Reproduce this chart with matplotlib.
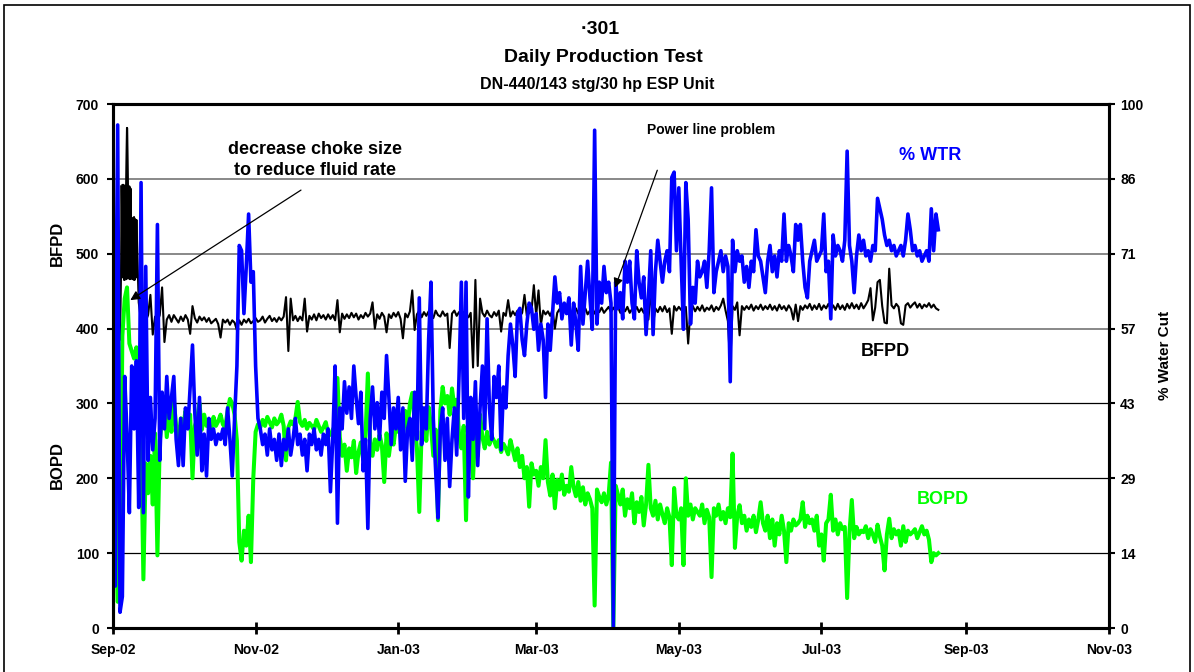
import numpy as np
import matplotlib
matplotlib.use("Agg")
import matplotlib.pyplot as plt
import matplotlib.dates as mdates
import pandas as pd
from matplotlib.patches import Rectangle

plt.rcParams['font.family'] = ['Liberation Sans', 'DejaVu Sans']
plt.rcParams['font.weight'] = 'bold'

# Daily test values, starting 1 Sep 2002
start_date = '2002-09-01'

# Fluid rate, barrels per day (left axis)
bfpd = [400, 420, 430, 385, 592, 465, 668, 470, 548, 465,
        545, 435, 410, 430, 410, 418, 445, 392, 416, 409,
        418, 455, 382, 412, 418, 409, 418, 413, 408, 416,
        410, 418, 412, 393, 430, 414, 408, 416, 411, 415,
        409, 414, 407, 410, 413, 406, 388, 412, 408, 412,
        405, 411, 408, 398, 411, 405, 412, 408, 413, 407,
        410, 414, 409, 411, 416, 408, 413, 417, 410, 414,
        409, 415, 411, 416, 442, 370, 440, 411, 417, 410,
        416, 411, 440, 396, 417, 412, 419, 411, 420, 414,
        418, 412, 419, 413, 418, 411, 438, 395, 420, 413,
        419, 414, 421, 415, 420, 412, 418, 414, 421, 416,
        420, 435, 400, 419, 413, 421, 416, 395, 419, 414,
        421, 416, 422, 413, 387, 420, 415, 423, 451, 398,
        419, 424, 415, 422, 417, 423, 418, 414, 424, 418,
        416, 423, 417, 420, 374, 420, 424, 417, 422, 416,
        422, 418, 415, 421, 348, 465, 350, 440, 421, 416,
        424, 418, 415, 422, 417, 424, 396, 421, 417, 438,
        416, 423, 418, 424, 416, 421, 445, 417, 421, 424,
        458, 418, 451, 405, 424, 419, 423, 417, 425, 400,
        421, 426, 419, 424, 420, 426, 418, 423, 427, 420,
        425, 421, 427, 419, 424, 428, 420, 426, 422, 428,
        421, 425, 429, 422, 428, 423, 429, 421, 426, 423,
        429, 421, 426, 423, 429, 422, 427, 421, 428, 412,
        451, 407, 427, 422, 429, 423, 430, 422, 427, 393,
        430, 424, 429, 425, 423, 429, 380, 425, 430, 423,
        429, 424, 431, 423, 428, 425, 431, 423, 429, 425,
        431, 440, 424, 410, 351, 430, 425, 435, 391, 430,
        425, 430, 426, 432, 424, 430, 426, 432, 425, 430,
        426, 432, 425, 430, 424, 432, 426, 430, 424, 431,
        426, 412, 432, 410, 430, 425, 431, 427, 433, 425,
        431, 426, 433, 425, 431, 427, 433, 426, 431, 425,
        433, 426, 431, 425, 433, 427, 434, 427, 432, 426,
        434, 427, 432, 438, 454, 411, 428, 462, 465, 430,
        408, 407, 480, 431, 427, 433, 429, 407, 405, 431,
        434, 428, 432, 435, 428, 433, 427, 432, 429, 434,
        428, 432, 427, 425]

# Fluid rate tests every 6 hours, 4 Sep to 11 Sep 2002 (choke adjustment period)
early_start = '2002-09-04 12:00'
bfpd_early = [590, 468, 586, 470, 592, 465, 588, 470, 591, 466,
              668, 470, 589, 467, 590, 466, 587, 469, 548, 466,
              545, 470, 549, 465, 546, 468, 545, 470]

# Oil rate, barrels per day (left axis)
bopd = [20, 355, 35, 40, 390, 440, 455, 380, 370, 360,
        375, 300, 260, 65, 220, 180, 230, 165, 260, 97,
        250, 280, 300, 255, 290, 262, 305, 270, 245, 280,
        268, 290, 275, 285, 200, 270, 280, 300, 265, 285,
        270, 278, 265, 282, 270, 276, 285, 272, 268, 290,
        306, 300, 285, 250, 115, 90, 130, 110, 150, 88,
        200, 262, 272, 268, 278, 270, 282, 275, 268, 280,
        272, 276, 285, 270, 224, 268, 276, 272, 280, 302,
        275, 270, 278, 266, 274, 270, 265, 278, 270, 262,
        268, 275, 260, 258, 265, 270, 334, 255, 230, 245,
        210, 240, 228, 250, 207, 235, 248, 225, 256, 340,
        248, 230, 252, 238, 258, 244, 195, 260, 230, 255,
        245, 270, 262, 280, 255, 290, 268, 300, 314, 275,
        240, 155, 262, 280, 250, 295, 270, 230, 265, 144,
        290, 322, 300, 310, 285, 320, 295, 305, 260, 240,
        270, 144, 282, 250, 200, 270, 230, 285, 255, 240,
        262, 245, 256, 250, 242, 251, 235, 246, 240, 232,
        251, 238, 224, 240, 215, 230, 200, 215, 162, 220,
        205, 210, 190, 215, 200, 251, 195, 177, 205, 160,
        198, 185, 205, 178, 190, 182, 215, 188, 176, 195,
        170, 188, 165, 180, 172, 160, 30, 185, 175, 168,
        180, 165, 178, 221, 0, 190, 178, 165, 185, 150,
        172, 160, 180, 140, 168, 155, 175, 137, 165, 218,
        160, 150, 170, 145, 165, 152, 140, 160, 148, 84,
        187, 150, 145, 160, 84, 200, 150, 165, 145, 160,
        155, 150, 165, 140, 158, 148, 68, 160, 150, 165,
        145, 155, 140, 160, 148, 233, 107, 150, 164, 140,
        150, 130, 145, 135, 150, 128, 145, 168, 140, 130,
        150, 120, 145, 110, 140, 125, 150, 130, 88, 140,
        130, 145, 137, 140, 145, 168, 135, 150, 140, 145,
        130, 150, 110, 125, 90, 140, 145, 178, 130, 145,
        125, 140, 132, 135, 40, 128, 171, 120, 135, 125,
        130, 128, 136, 120, 132, 125, 115, 138, 122, 110,
        77, 125, 146, 120, 132, 125, 130, 110, 136, 115,
        130, 125, 128, 132, 120, 128, 136, 125, 130, 118,
        88, 100, 97, 100]

# Water cut, percent (right axis)
wtr = [100, 8, 96, 3, 6, 48, 37, 22, 50, 38,
       51, 23, 85, 22, 69, 32, 44, 34, 40, 77,
       32, 45, 38, 48, 40, 44, 48, 36, 31, 40,
       31, 42, 38, 46, 54, 41, 33, 44, 30, 37,
       29, 40, 36, 38, 35, 37, 36, 38, 35, 42,
       36, 29, 40, 50, 73, 72, 60, 69, 79, 66,
       68, 50, 40, 38, 35, 37, 33, 38, 34, 36,
       32, 37, 31, 36, 34, 38, 33, 36, 40, 35,
       37, 33, 36, 30, 37, 35, 38, 34, 36, 33,
       37, 35, 38, 26, 36, 50, 20, 42, 38, 47,
       41, 46, 40, 50, 44, 39, 45, 30, 36, 19,
       40, 46, 38, 43, 36, 45, 40, 52, 44, 35,
       42, 38, 44, 34, 42, 28, 38, 40, 32, 45,
       36, 63, 35, 42, 38, 55, 66, 40, 30, 21,
       38, 42, 32, 40, 27, 36, 42, 33, 48, 66,
       40, 66, 25, 44, 36, 47, 31, 42, 50, 38,
       59, 42, 36, 48, 44, 50, 34, 46, 42, 52,
       58, 54, 48, 60, 61, 55, 52, 58, 62, 61,
       57, 60, 53, 58, 55, 44, 58, 53, 60, 67,
       62, 64, 59, 62, 60, 63, 54, 62, 58, 53,
       69, 58, 64, 70, 63, 57, 95, 58, 66, 62,
       69, 64, 66, 62, 0, 66, 61, 64, 59, 70,
       66, 70, 62, 59, 72, 66, 63, 67, 56, 63,
       72, 56, 68, 74, 70, 66, 70, 72, 68, 86,
       87, 72, 84, 70, 57, 85, 78, 58, 65, 62,
       70, 67, 68, 70, 65, 72, 84, 64, 68, 70,
       72, 68, 71, 69, 47, 74, 68, 72, 70, 71,
       66, 69, 65, 70, 68, 76, 71, 70, 67, 64,
       70, 73, 68, 71, 67, 72, 70, 79, 70, 73,
       71, 68, 77, 74, 77, 70, 65, 63, 70, 72,
       74, 70, 71, 72, 79, 68, 70, 59, 75, 71,
       73, 72, 70, 74, 91, 73, 70, 64, 71, 75,
       72, 74, 71, 72, 70, 73, 72, 82, 80, 78,
       75, 73, 74, 72, 73, 71, 72, 73, 71, 74,
       79, 76, 72, 73, 71, 72, 70, 71, 72, 70,
       80, 72, 79, 76]

wc_ticks = ['0', '14', '29', '43', '57', '71', '86', '100']

fig = plt.figure(figsize=(11.94, 6.72), dpi=100)
ax = fig.add_axes([113 / 1194, 1 - 628 / 672, 996 / 1194, 524 / 672])
ax2 = ax.twinx()

d_bf = pd.date_range(start_date, periods=len(bfpd))
d_early = pd.date_range(early_start, periods=len(bfpd_early), freq='6h')
d_bo = pd.date_range(start_date, periods=len(bopd))
d_wc = pd.date_range(start_date, periods=len(wtr))

# horizontal grid lines
for v in [100, 200, 300]:
    ax.axhline(v, color='black', lw=0.9, zorder=0)
for v in [400, 500, 600]:
    ax.axhline(v, color='#7f7f7f', lw=1.3, zorder=0)

ax.plot(d_bf, bfpd, color='black', lw=1.5, zorder=2)
ax.plot(d_early, bfpd_early, color='black', lw=1.5, zorder=2)
ax.plot(d_bo, bopd, color='#00ff00', lw=2.9, zorder=3)
ax2.plot(d_wc, wtr, color='#0000ff', lw=2.6)

ax.set_xlim(pd.Timestamp('2002-09-01'), pd.Timestamp('2003-11-01'))
ax.set_ylim(0, 700)
ax.set_yticks(np.arange(0, 701, 100))
ax2.set_ylim(0, 100)
ax2.set_yticks(np.arange(8) * 100 / 7)
ax2.set_yticklabels(wc_ticks)

ax.xaxis.set_major_locator(mdates.MonthLocator(bymonth=[1, 3, 5, 7, 9, 11]))
ax.xaxis.set_major_formatter(mdates.DateFormatter('%b-%y'))

for a in (ax, ax2):
    for s in a.spines.values():
        s.set_linewidth(2.2)
ax.tick_params(axis='y', direction='out', length=4, width=1.5, pad=6, labelsize=10)
ax.tick_params(axis='x', direction='inout', length=8, width=2, pad=7, labelsize=10)
ax2.tick_params(axis='y', direction='out', length=4, width=1.5, pad=4, labelsize=10)

# axis titles
fig.text(57 / 1194, 1 - 243 / 672, 'BFPD', rotation=90, ha='center', va='center', fontsize=12)
fig.text(57 / 1194, 1 - 465 / 672, 'BOPD', rotation=90, ha='center', va='center', fontsize=12)
fig.text(1165 / 1194, 1 - 355 / 672, '% Water Cut', rotation=90, ha='center', va='center', fontsize=11)

# titles
fig.text(600 / 1194, 1 - 30 / 672, '\u00b7301', ha='center', va='center', fontsize=14)
fig.text(603 / 1194, 1 - 58 / 672, 'Daily Production Test', ha='center', va='center', fontsize=14)
fig.text(597 / 1194, 1 - 85 / 672, 'DN-440/143 stg/30 hp ESP Unit', ha='center', va='center', fontsize=11.5)

# series labels
fig.text(930 / 1194, 1 - 155 / 672, '% WTR', color='#0000ff', ha='center', va='center', fontsize=13)
fig.text(885 / 1194, 1 - 351 / 672, 'BFPD', color='black', ha='center', va='center', fontsize=13)
fig.text(943 / 1194, 1 - 500 / 672, 'BOPD', color='#00ff00', ha='center', va='center', fontsize=13)

# annotations
fig.text(315 / 1194, 1 - 160 / 672, 'decrease choke size\nto reduce fluid rate',
         ha='center', va='center', fontsize=13, linespacing=1.3)
fig.text(711 / 1194, 1 - 130 / 672, 'Power line problem', ha='center', va='center', fontsize=10)

t0 = pd.Timestamp(start_date)
def day(n):
    return mdates.date2num(t0 + pd.Timedelta(days=n))

ax2.annotate('', xy=(day(6.4), 436), xytext=(day(81.4), 587), xycoords=ax.transData,
             textcoords=ax.transData,
             arrowprops=dict(arrowstyle='-|>', color='black', lw=0.9, mutation_scale=14))
ax2.annotate('', xy=(day(214.3), 451), xytext=(day(233.2), 615), xycoords=ax.transData,
             textcoords=ax.transData,
             arrowprops=dict(arrowstyle='-|>', color='black', lw=0.9, mutation_scale=14))

# outer frame
fig.patches.append(Rectangle((4 / 1194, -0.02), 1186 / 1194, 1 - 5 / 672 + 0.02,
                             transform=fig.transFigure, fill=False, lw=1.2, color='black'))

fig.savefig('out.png', dpi=100)
